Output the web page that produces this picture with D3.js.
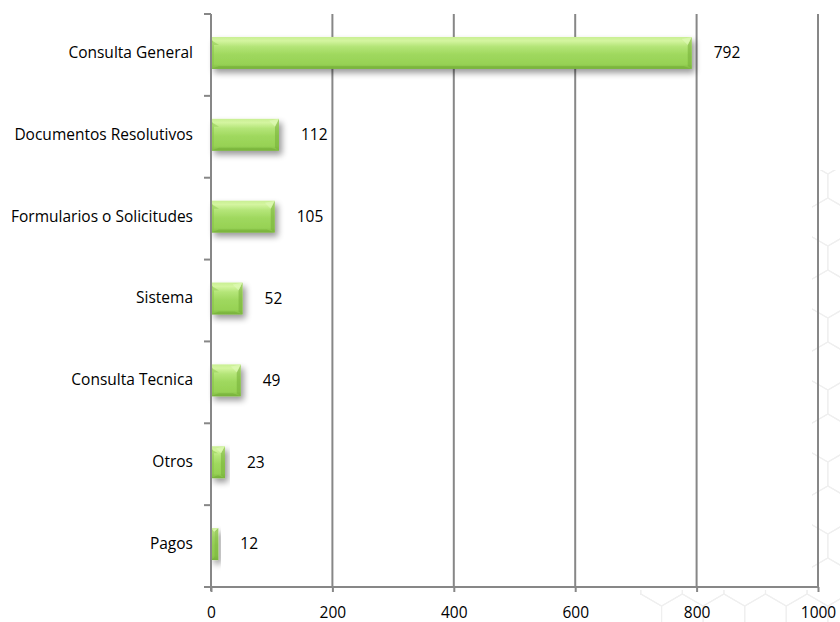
<!DOCTYPE html>
<html><head><meta charset="utf-8">
<script src="https://cdn.jsdelivr.net/npm/d3@7"></script>
<style>body{margin:0;background:#fff}svg{display:block}text{font-family:"Open Sans","Liberation Sans",sans-serif;fill:#000}</style>
</head><body><svg id="c" width="840" height="622"></svg>
<script>
const categories = ["Consulta General","Documentos Resolutivos","Formularios o Solicitudes","Sistema","Consulta Tecnica","Otros","Pagos"];
const values = [792,112,105,52,49,23,12];
const xTicks = [0,200,400,600,800,1000];

(function(){
const svg = d3.select("#c");
const mL=211,mR=818,mT=14,mB=587;
const FS=15.5;
const defs = svg.append("defs");

// faint hex background
const hexG = svg.append("g").attr("stroke","#efefef").attr("stroke-width",1.2).attr("fill","none");
const hr=24, hw=Math.sqrt(3)*hr;
const clip = defs.append("clipPath").attr("id","hexclip");
clip.append("rect").attr("x",812).attr("y",170).attr("width",40).attr("height",460);
clip.append("rect").attr("x",640).attr("y",590).attr("width",200).attr("height",40);
const hexPath = (cx,cy)=>{let p="";for(let i=0;i<6;i++){const a=Math.PI/180*(60*i-30);p+=(i?"L":"M")+(cx+hr*Math.cos(a))+","+(cy+hr*Math.sin(a));}return p+"Z";};
const hg = hexG.append("g").attr("clip-path","url(#hexclip)");
for(let r=0;r<20;r++){for(let c=0;c<12;c++){const cx=620+c*hw+(r%2?hw/2:0), cy=150+r*hr*1.5; hg.append("path").attr("d",hexPath(cx,cy));}}

const x = d3.scaleLinear().domain([0,1000]).range([mL,mR]);
const y = d3.scaleBand().domain(categories).range([mT,mB]).paddingInner(0.61).paddingOuter(0.305);

// gridlines
svg.append("g").selectAll("line").data(xTicks.filter(d=>d>0)).join("line")
  .attr("x1",d=>x(d)).attr("x2",d=>x(d)).attr("y1",mT).attr("y2",mB)
  .attr("stroke","#878787").attr("stroke-width",2);

// gradients & shadow
const g1 = defs.append("linearGradient").attr("id","gv").attr("x1",0).attr("y1",0).attr("x2",0).attr("y2",1);
[[0,"#c9ef93"],[0.12,"#d4f5a0"],[0.3,"#b4e578"],[0.55,"#9fd85e"],[0.85,"#97d255"],[1,"#80bb42"]].forEach(s=>g1.append("stop").attr("offset",s[0]).attr("stop-color",s[1]));
const f = defs.append("filter").attr("id","sh").attr("x","-20%").attr("y","-50%").attr("width","150%").attr("height","250%");
f.append("feGaussianBlur").attr("in","SourceAlpha").attr("stdDeviation",3).attr("result","b");
f.append("feOffset").attr("in","b").attr("dx",3).attr("dy",4).attr("result","o");
f.append("feComponentTransfer").attr("in","o").attr("result","o2").append("feFuncA").attr("type","linear").attr("slope",0.4);
const fm=f.append("feMerge"); fm.append("feMergeNode").attr("in","o2"); fm.append("feMergeNode").attr("in","SourceGraphic");

const bars = svg.append("g").attr("transform","translate(0,-2)").selectAll("g").data(categories).join("g");
bars.each(function(c,i){
  const g=d3.select(this);
  const x0=x(0), x1=x(values[i]), y0=y(c), h=y.bandwidth(), w=x1-x0;
  const b=Math.min(8, w/2, h/2);
  const gg=g.append("g").attr("filter","url(#sh)");
  gg.append("rect").attr("x",x0).attr("y",y0).attr("width",w).attr("height",h).attr("fill","url(#gv)");
  gg.append("path").attr("d",`M${x0},${y0+h}L${x1},${y0+h}L${x1-b},${y0+h-3}L${x0+b},${y0+h-3}Z`).attr("fill","#6fa834").attr("opacity",0.45);
  gg.append("path").attr("d",`M${x1},${y0}L${x1},${y0+h}L${x1-4},${y0+h-3}L${x1-4},${y0+b}Z`).attr("fill","#74ae36").attr("opacity",0.55);
  gg.append("path").attr("d",`M${x1},${y0}L${x1-4},${y0+b}L${x1-b-2},${y0+2}Z`).attr("fill","#e4fbbf").attr("opacity",0.5);
  gg.append("path").attr("d",`M${x0},${y0}L${x0},${y0+h}L${x0+3},${y0+h-3}L${x0+3},${y0+b}Z`).attr("fill","#86c248").attr("opacity",0.5);
  gg.append("path").attr("d",`M${x0},${y0+3}L${x0+b},${y0+b}L${x0+3},${y0+b}Z`).attr("fill","#8cc84c").attr("opacity",0.5);
  g.append("text").attr("x",x1+22).attr("y",y0+h/2).attr("dy","0.35em").attr("font-size",FS).text(values[i]);
});

// axes
const xa = svg.append("g").attr("transform",`translate(0,${mB})`)
  .call(d3.axisBottom(x).tickValues(xTicks).tickSize(5).tickPadding(15).tickFormat(d3.format("d")));
xa.select(".domain").remove();
xa.selectAll(".tick line").attr("stroke","#878787").attr("stroke-width",2);
xa.selectAll(".tick text").attr("font-size",FS).attr("font-family",null);
svg.append("line").attr("x1",mL-7).attr("x2",mR).attr("y1",mB).attr("y2",mB).attr("stroke","#878787").attr("stroke-width",2);

const ya = svg.append("g").attr("transform",`translate(${mL},-2)`)
  .call(d3.axisLeft(y).tickSize(0).tickPadding(18));
ya.select(".domain").remove();
ya.selectAll(".tick text").attr("font-size",FS).attr("font-family",null);
svg.append("line").attr("x1",mL).attr("x2",mL).attr("y1",mT).attr("y2",mB+4).attr("stroke","#878787").attr("stroke-width",2);
const bounds = d3.range(categories.length).map(i=>y.step()*i + mT);
svg.append("g").selectAll("line").data(bounds).join("line")
  .attr("x1",mL-7).attr("x2",mL).attr("y1",d=>d).attr("y2",d=>d).attr("stroke","#878787").attr("stroke-width",2);
})();
</script></body></html>
